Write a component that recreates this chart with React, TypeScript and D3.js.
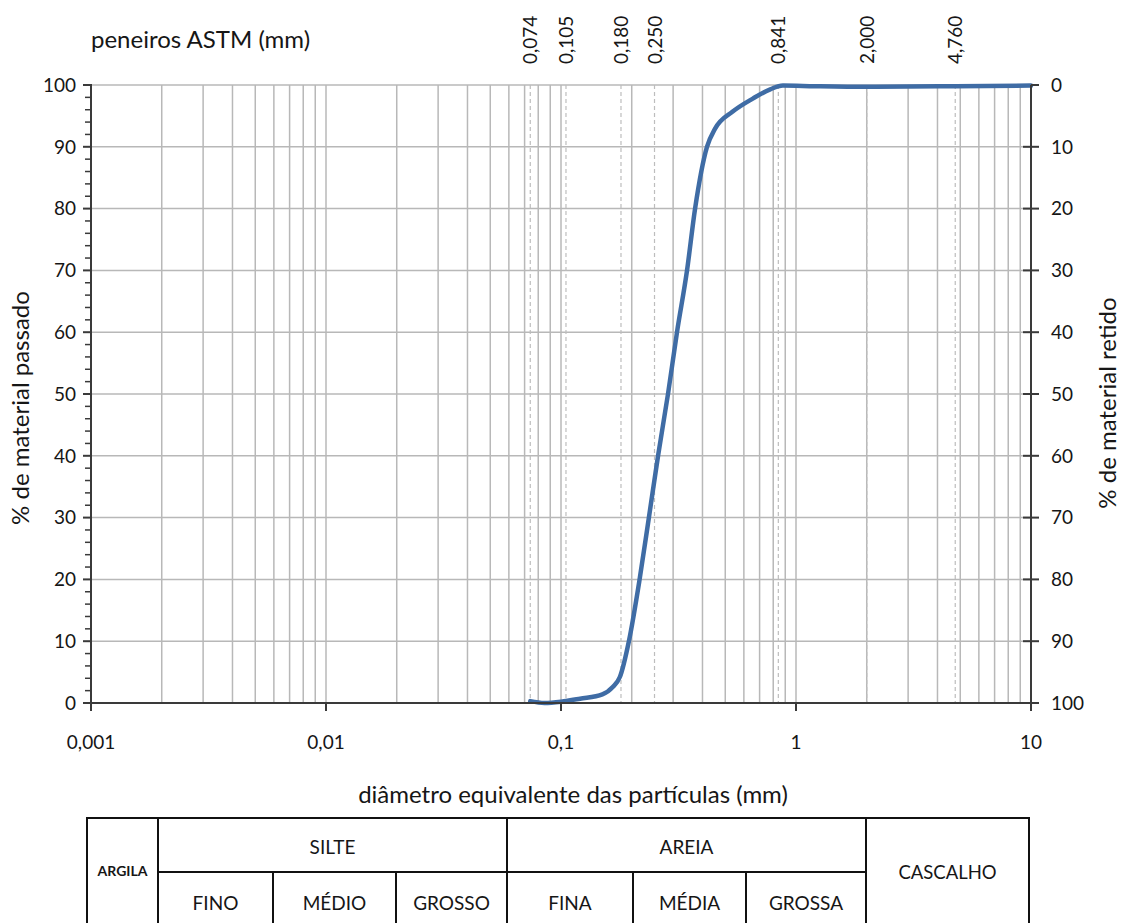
import React from "react";
import * as d3 from "d3";

const diameters = [0.074, 0.085, 0.1, 0.1205, 0.15, 0.166, 0.178, 0.1945, 0.216, 0.2366, 0.2588, 0.2853, 0.3116, 0.3438, 0.372, 0.418, 0.452, 0.538, 0.655, 0.777, 0.88, 1.2, 2.0, 4.76, 10];
const passing = [0.3, 0.0, 0.2, 0.7, 1.4, 2.6, 4.2, 10, 20, 30, 40, 50, 60, 70, 80, 90, 92.9, 95.7, 97.8, 99.3, 99.9, 99.8, 99.7, 99.8, 99.9];

const sieveSizes = [0.074, 0.105, 0.18, 0.25, 0.841, 2.0, 4.76];
const sieveLabels = ["0,074", "0,105", "0,180", "0,250", "0,841", "2,000", "4,760"];
const xTickValues = [0.001, 0.01, 0.1, 1, 10];
const xTickLabels = ["0,001", "0,01", "0,1", "1", "10"];
const yTicks = [0, 10, 20, 30, 40, 50, 60, 70, 80, 90, 100];

const FONT = "Lato, 'Open Sans', sans-serif";
const TXT = "#161616";

export default function App() {
  const W = 1121, H = 923;
  const x = d3.scaleLog().domain([0.001, 10]).range([91, 1031]);
  const y = d3.scaleLinear().domain([0, 100]).range([703, 85]);
  const yr = d3.scaleLinear().domain([0, 100]).range([85, 703]);

  const minorX: number[] = [];
  [0.001, 0.01, 0.1, 1].forEach((dec) => {
    for (let k = 1; k <= 9; k++) {
      const v = dec * k;
      if (v > 0.001) minorX.push(v);
    }
  });
  const minorY: number[] = d3.range(0, 101, 2).filter((v) => v % 10 !== 0);

  const pts: [number, number][] = diameters.map((d, i) => [x(d), y(passing[i])]);
  const line = d3.line().curve(d3.curveMonotoneX)(pts) || "";

  // table geometry
  const tTop = 818, tMid = 872, tBot = 940;
  const cols = [87, 158, 273, 396, 507, 633, 746, 866, 1029];

  return (
    <svg width={W} height={H} style={{ position: "absolute", left: 0, top: 0, background: "#fff" }} fontFamily={FONT}>
      {/* vertical gridlines */}
      {minorX.map((v, i) => (
        <line key={"vx" + i} x1={x(v)} x2={x(v)} y1={85} y2={703} stroke="#b8b8b8" strokeWidth={1.5} />
      ))}
      {/* horizontal gridlines */}
      {yTicks.filter((t) => t > 0).map((t) => (
        <line key={"hy" + t} x1={91} x2={1031} y1={y(t)} y2={y(t)} stroke="#b8b8b8" strokeWidth={1.5} />
      ))}
      {/* sieve dashed lines */}
      {sieveSizes.map((s, i) => (
        <line key={"sv" + i} x1={x(s)} x2={x(s)} y1={85} y2={703} stroke="#bdbdbd" strokeWidth={1.2} strokeDasharray="4,3" />
      ))}
      {/* curve */}
      <path d={line} fill="none" stroke="#3f6ca5" strokeWidth={4.5} strokeLinecap="round" strokeLinejoin="round" />
      {/* axes */}
      <line x1={91} x2={91} y1={85} y2={703} stroke="#3a3a3a" strokeWidth={2} />
      <line x1={1031} x2={1031} y1={85} y2={703} stroke="#3a3a3a" strokeWidth={2} />
      <line x1={90} x2={1032} y1={703} y2={703} stroke="#3a3a3a" strokeWidth={2} />
      {/* left ticks */}
      {yTicks.map((t) => (
        <g key={"lt" + t}>
          <line x1={83} x2={92} y1={y(t)} y2={y(t)} stroke="#3a3a3a" strokeWidth={2} />
          <text x={76} y={y(t)} dy="0.36em" textAnchor="end" fontSize={19} fill={TXT}>{t}</text>
        </g>
      ))}
      {minorY.map((t) => (
        <line key={"lm" + t} x1={85} x2={91} y1={y(t)} y2={y(t)} stroke="#3a3a3a" strokeWidth={1.5} />
      ))}
      {/* right ticks */}
      {yTicks.map((t) => (
        <g key={"rt" + t}>
          <line x1={t === 0 || t === 100 ? 1031 : 1023} x2={1039} y1={yr(t)} y2={yr(t)} stroke="#3a3a3a" strokeWidth={2} />
          <text x={1051} y={yr(t)} dy="0.36em" textAnchor="start" fontSize={19} fill={TXT}>{t}</text>
        </g>
      ))}
      {/* bottom ticks */}
      {xTickValues.map((v, i) => (
        <g key={"bt" + i}>
          <line x1={x(v)} x2={x(v)} y1={703} y2={711} stroke="#3a3a3a" strokeWidth={2} />
          <text x={x(v)} y={742} dy="0.36em" textAnchor="middle" fontSize={19} fill={TXT}>{xTickLabels[i]}</text>
        </g>
      ))}
      {/* top sieve labels */}
      {sieveSizes.map((s, i) => (
        <text key={"sl" + i} transform={`translate(${x(s) + 7},64) rotate(-90)`} textAnchor="start" fontSize={19} fill={TXT}>
          {sieveLabels[i]}
        </text>
      ))}
      <text x={91} y={48} fontSize={24} fill={TXT}>peneiros ASTM (mm)</text>
      {/* axis titles */}
      <text transform="translate(29,408) rotate(-90)" textAnchor="middle" fontSize={24} fill={TXT}>% de material passado</text>
      <text transform="translate(1116,403) rotate(-90)" textAnchor="middle" fontSize={24} fill={TXT}>% de material retido</text>
      <text x={573} y={803} textAnchor="middle" fontSize={24} fill={TXT}>diâmetro equivalente das partículas (mm)</text>
      {/* table */}
      <g stroke="#111" strokeWidth={2} fill="none">
        <rect x={cols[0]} y={tTop} width={cols[8] - cols[0]} height={tBot - tTop} />
        <line x1={cols[1]} x2={cols[7]} y1={tMid} y2={tMid} />
        {[1, 4, 7].map((c) => (
          <line key={"tc" + c} x1={cols[c]} x2={cols[c]} y1={tTop} y2={tBot} />
        ))}
        {[2, 3, 5, 6].map((c) => (
          <line key={"ts" + c} x1={cols[c]} x2={cols[c]} y1={tMid} y2={tBot} />
        ))}
      </g>
      <g fill={TXT} textAnchor="middle">
        <text x={(cols[0] + cols[1]) / 2} y={871} dy="0.36em" fontSize={14} fontWeight={700}>ARGILA</text>
        <text x={(cols[1] + cols[4]) / 2} y={847} dy="0.36em" fontSize={19}>SILTE</text>
        <text x={(cols[4] + cols[7]) / 2} y={847} dy="0.36em" fontSize={19}>AREIA</text>
        <text x={(cols[7] + cols[8]) / 2} y={872} dy="0.36em" fontSize={18.5}>CASCALHO</text>
        <text x={(cols[1] + cols[2]) / 2} y={903} dy="0.36em" fontSize={19}>FINO</text>
        <text x={(cols[2] + cols[3]) / 2} y={903} dy="0.36em" fontSize={19}>MÉDIO</text>
        <text x={(cols[3] + cols[4]) / 2} y={903} dy="0.36em" fontSize={19}>GROSSO</text>
        <text x={(cols[4] + cols[5]) / 2} y={903} dy="0.36em" fontSize={19}>FINA</text>
        <text x={(cols[5] + cols[6]) / 2} y={903} dy="0.36em" fontSize={19}>MÉDIA</text>
        <text x={(cols[6] + cols[7]) / 2} y={903} dy="0.36em" fontSize={19}>GROSSA</text>
      </g>
    </svg>
  );
}
